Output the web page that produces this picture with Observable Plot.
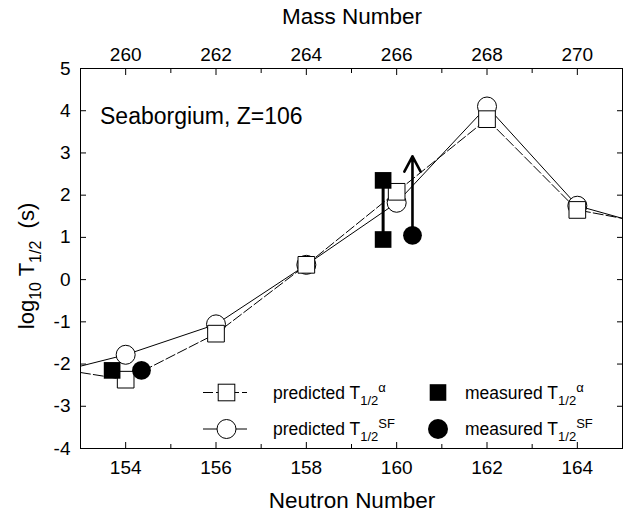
<!DOCTYPE html>
<html><head><meta charset="utf-8">
<script src="https://cdn.jsdelivr.net/npm/d3@7"></script>
<script src="https://cdn.jsdelivr.net/npm/@observablehq/plot@0.6"></script>
<style>body{margin:0;background:#fff} svg{font-family:"Liberation Sans",Arial,Helvetica,sans-serif}</style>
</head><body><div id="chart"></div>
<script>
const Z = 106;
// predicted half-lives at even neutron numbers
const neutron = [154, 156, 158, 160, 162, 164];
const predAlpha = [-2.37, -1.28, 0.35, 2.08, 3.8, 1.65];
const predSF = [-1.78, -1.06, 0.35, 1.82, 4.1, 1.75];
// where the curves leave the frame
const edgeN = [153, 165];
const edgeAlpha = [-2.2, 1.45];
const edgeSF = [-2.05, 1.45];
// measured
const measAlphaN = [153.7, 159.7, 159.7];
const measAlpha = [-2.15, 2.35, 0.95];
const measSFN = [154.35, 160.35];
const measSF = [-2.15, 1.05];
const sfLimitTo = 2.92; // lower limit arrow for 266Sg SF
// ticks
const neutronTicks = [154, 156, 158, 160, 162, 164];
const neutronMinor = [155, 157, 159, 161, 163];
const massTicks = [260, 262, 264, 266, 268, 270];
const massMinor = [261, 263, 265, 267, 269];
const yTicks = [-4, -3, -2, -1, 0, 1, 2, 3, 4, 5];

const alphaLine = [
  {n: edgeN[0], v: edgeAlpha[0]},
  ...neutron.map((n, i) => ({n, v: predAlpha[i]})),
  {n: edgeN[1], v: edgeAlpha[1]}
];
const sfLine = [
  {n: edgeN[0], v: edgeSF[0]},
  ...neutron.map((n, i) => ({n, v: predSF[i]})),
  {n: edgeN[1], v: edgeSF[1]}
];
const alphaPts = neutron.map((n, i) => ({n, v: predAlpha[i]}));
const sfPts = neutron.map((n, i) => ({n, v: predSF[i]}));
const mAlpha = measAlphaN.map((n, i) => ({n, v: measAlpha[i]}));
const mSF = measSFN.map((n, i) => ({n, v: measSF[i]}));
const errBar = [{n: measAlphaN[1], lo: measAlpha[2], hi: measAlpha[1]}];
const arrowD = [{n: measSFN[1], lo: measSF[1], hi: sfLimitTo}];

const W = 628, H = 514;
const plot = Plot.plot({
  width: W, height: H,
  marginLeft: 80, marginRight: 6, marginTop: 68, marginBottom: 66,
  x: {domain: [153, 165]},
  y: {domain: [-4, 5]},
  style: {fontFamily: '"Liberation Sans", Arial, sans-serif', color: "#000", background: "#fff"},
  marks: [
    Plot.line(sfLine, {x: "n", y: "v", stroke: "#000", strokeWidth: 1, clip: true}),
    Plot.line(alphaLine, {x: "n", y: "v", stroke: "#000", strokeWidth: 1, strokeDasharray: "10,3", clip: true}),
    Plot.dot(sfPts, {x: "n", y: "v", r: 9.5, symbol: "circle", fill: "#fff", stroke: "#000", strokeWidth: 1}),
    Plot.dot(alphaPts, {x: "n", y: "v", r: 9.4, symbol: "square", fill: "#fff", stroke: "#000", strokeWidth: 1}),
    Plot.ruleX(errBar, {x: "n", y1: "lo", y2: "hi", stroke: "#000", strokeWidth: 3}),
    Plot.arrow(arrowD, {x1: "n", x2: "n", y1: "lo", y2: "hi", stroke: "#000", strokeWidth: 2.6, headLength: 10, headAngle: 56}),
    Plot.dot(mAlpha, {x: "n", y: "v", r: 9.4, symbol: "square", fill: "#000", stroke: "none"}),
    Plot.dot(mSF, {x: "n", y: "v", r: 9.4, symbol: "circle", fill: "#000", stroke: "none"}),
    Plot.frame({stroke: "#000", strokeWidth: 1}),
    Plot.axisX({anchor: "bottom", ticks: neutronTicks, tickSize: -6, tickPadding: 18, fontSize: 19, label: null, tickFormat: d => String(d)}),
    Plot.axisX({anchor: "bottom", ticks: neutronMinor, tickSize: -4, tickFormat: () => "", label: null}),
    Plot.axisX({anchor: "top", ticks: massTicks.map(m => m - Z), tickSize: -6, tickPadding: 14, fontSize: 19, label: null, tickFormat: d => String(d + Z)}),
    Plot.axisX({anchor: "top", ticks: massMinor.map(m => m - Z), tickSize: -4, tickFormat: () => "", label: null}),
    Plot.axisY({anchor: "left", ticks: yTicks, tickSize: -6, tickPadding: 16, fontSize: 19, label: null, tickFormat: d => String(d)}),
    Plot.axisY({anchor: "right", ticks: yTicks, tickSize: -6, tickFormat: () => "", label: null})
  ]
});
document.getElementById("chart").appendChild(plot);

const svg = d3.select(plot);
const font = '"Liberation Sans", Arial, sans-serif';
function txt(x, y, s, size, anchor = "start") {
  return svg.append("text").attr("x", x).attr("y", y).attr("font-size", size)
    .attr("font-family", font).attr("text-anchor", anchor).attr("fill", "#000").text(s);
}
txt(352, 24, "Mass Number", 22.5, "middle");
txt(352, 508, "Neutron Number", 22.5, "middle");
txt(100, 124, "Seaborgium, Z=106", 23);

// y label
const yl = svg.append("text").attr("transform", "translate(34,266) rotate(-90)")
  .attr("text-anchor", "middle").attr("font-size", 22).attr("font-family", font).attr("fill", "#000");
yl.append("tspan").text("log");
yl.append("tspan").attr("font-size", 16).attr("dy", 7).text("10");
yl.append("tspan").attr("dy", -7).text(" T");
yl.append("tspan").attr("font-size", 16).attr("dy", 7).text("1/2");
yl.append("tspan").attr("dy", -7).text("\u00a0\u00a0(s)");

// legend
function label(x, y, word, sup) {
  const t = svg.append("text").attr("x", x).attr("y", y).attr("font-size", 17.5)
    .attr("text-anchor", "start").attr("font-family", font).attr("fill", "#000");
  t.append("tspan").text(word + " T");
  t.append("tspan").attr("font-size", 13).attr("dy", 6).text("1/2");
  t.append("tspan").attr("font-size", 13).attr("dy", -13).text(sup);
}
const rows = [392.5, 429];
const g = svg.append("g");
g.append("line").attr("x1", 203).attr("x2", 247).attr("y1", rows[0]).attr("y2", rows[0])
  .attr("stroke", "#000").attr("stroke-dasharray", "10,3");
g.append("rect").attr("x", 226.5 - 8.3).attr("y", rows[0] - 8.3).attr("width", 16.6).attr("height", 16.6)
  .attr("fill", "#fff").attr("stroke", "#000");
g.append("line").attr("x1", 203).attr("x2", 247).attr("y1", rows[1]).attr("y2", rows[1]).attr("stroke", "#000");
g.append("circle").attr("cx", 226.5).attr("cy", rows[1]).attr("r", 9.5).attr("fill", "#fff").attr("stroke", "#000");
g.append("rect").attr("x", 438 - 8.3).attr("y", rows[0] - 8.3).attr("width", 16.6).attr("height", 16.6).attr("fill", "#000");
g.append("circle").attr("cx", 438).attr("cy", rows[1]).attr("r", 10).attr("fill", "#000");
label(273, rows[0] + 6, "predicted", "α");
label(273, rows[1] + 6, "predicted", "SF");
label(465, rows[0] + 6, "measured", "α");
label(465, rows[1] + 6, "measured", "SF");
</script></body></html>
